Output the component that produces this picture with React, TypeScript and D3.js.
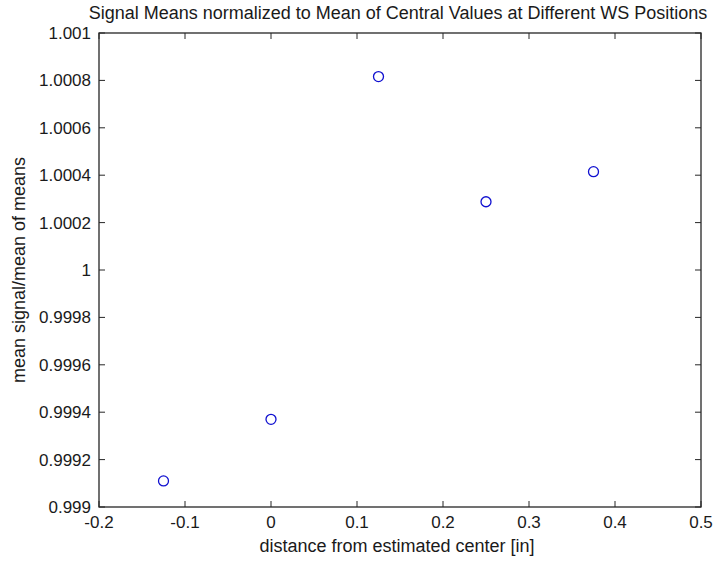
import React from "react";
import * as d3 from "d3";

const xValues = [-0.125, 0, 0.125, 0.25, 0.375];
const yValues = [0.99911, 0.99937, 1.000816, 1.000288, 1.000415];
const xTicks = [-0.2, -0.1, 0, 0.1, 0.2, 0.3, 0.4, 0.5];
const yTicks = [0.999, 0.9992, 0.9994, 0.9996, 0.9998, 1, 1.0002, 1.0004, 1.0006, 1.0008, 1.001];
const yTickLabels = ["0.999", "0.9992", "0.9994", "0.9996", "0.9998", "1", "1.0002", "1.0004", "1.0006", "1.0008", "1.001"];
const xTickLabels = ["-0.2", "-0.1", "0", "0.1", "0.2", "0.3", "0.4", "0.5"];
const title = "Signal Means normalized to Mean of Central Values at Different WS Positions";
const xLabel = "distance from estimated center [in]";
const yLabel = "mean signal/mean of means";

const W = 714, H = 561;
const L = 99, R = 701, T = 33, B = 507;
const font = "'Liberation Sans', Arial, sans-serif";
const axisColor = "#262626";
const textColor = "#1a1a1a";
const tickLen = 6;

export default function App() {
  const x = d3.scaleLinear().domain([-0.2, 0.5]).range([L, R]);
  const y = d3.scaleLinear().domain([0.999, 1.001]).range([B, T]);
  return (
    <svg width={W} height={H} style={{ position: "absolute", left: 0, top: 0, background: "#fff" }}>
      <rect x={0} y={0} width={W} height={H} fill="#fff" />
      <rect x={L} y={T} width={R - L} height={B - T} fill="#fff" stroke={axisColor} strokeWidth={1.3} />
      {xTicks.map((t, i) => (
        <g key={"x" + i}>
          <line x1={x(t)} x2={x(t)} y1={B} y2={B - tickLen} stroke={axisColor} />
          <line x1={x(t)} x2={x(t)} y1={T} y2={T + tickLen} stroke={axisColor} />
          <text x={x(t)} y={528} textAnchor="middle" fontFamily={font} fontSize={17} fill={textColor}>
            {xTickLabels[i]}
          </text>
        </g>
      ))}
      {yTicks.map((t, i) => (
        <g key={"y" + i}>
          <line x1={L} x2={L + tickLen} y1={y(t)} y2={y(t)} stroke={axisColor} />
          <line x1={R} x2={R - tickLen} y1={y(t)} y2={y(t)} stroke={axisColor} />
          <text x={91} y={y(t) + 6} textAnchor="end" fontFamily={font} fontSize={17} fill={textColor}>
            {yTickLabels[i]}
          </text>
        </g>
      ))}
      {xValues.map((v, i) => (
        <circle key={"p" + i} cx={x(v)} cy={y(yValues[i])} r={5} fill="none" stroke="#1010d0" strokeWidth={1.3} />
      ))}
      <text x={(L + R) / 2 - 2} y={19} textAnchor="middle" fontFamily={font} fontSize={18} fill={textColor}>
        {title}
      </text>
      <text x={(L + R) / 2 - 3} y={552} textAnchor="middle" fontFamily={font} fontSize={18} fill={textColor}>
        {xLabel}
      </text>
      <text
        transform={`translate(25, ${(T + B) / 2}) rotate(-90)`}
        textAnchor="middle"
        fontFamily={font}
        fontSize={18}
        fill={textColor}
      >
        {yLabel}
      </text>
    </svg>
  );
}
